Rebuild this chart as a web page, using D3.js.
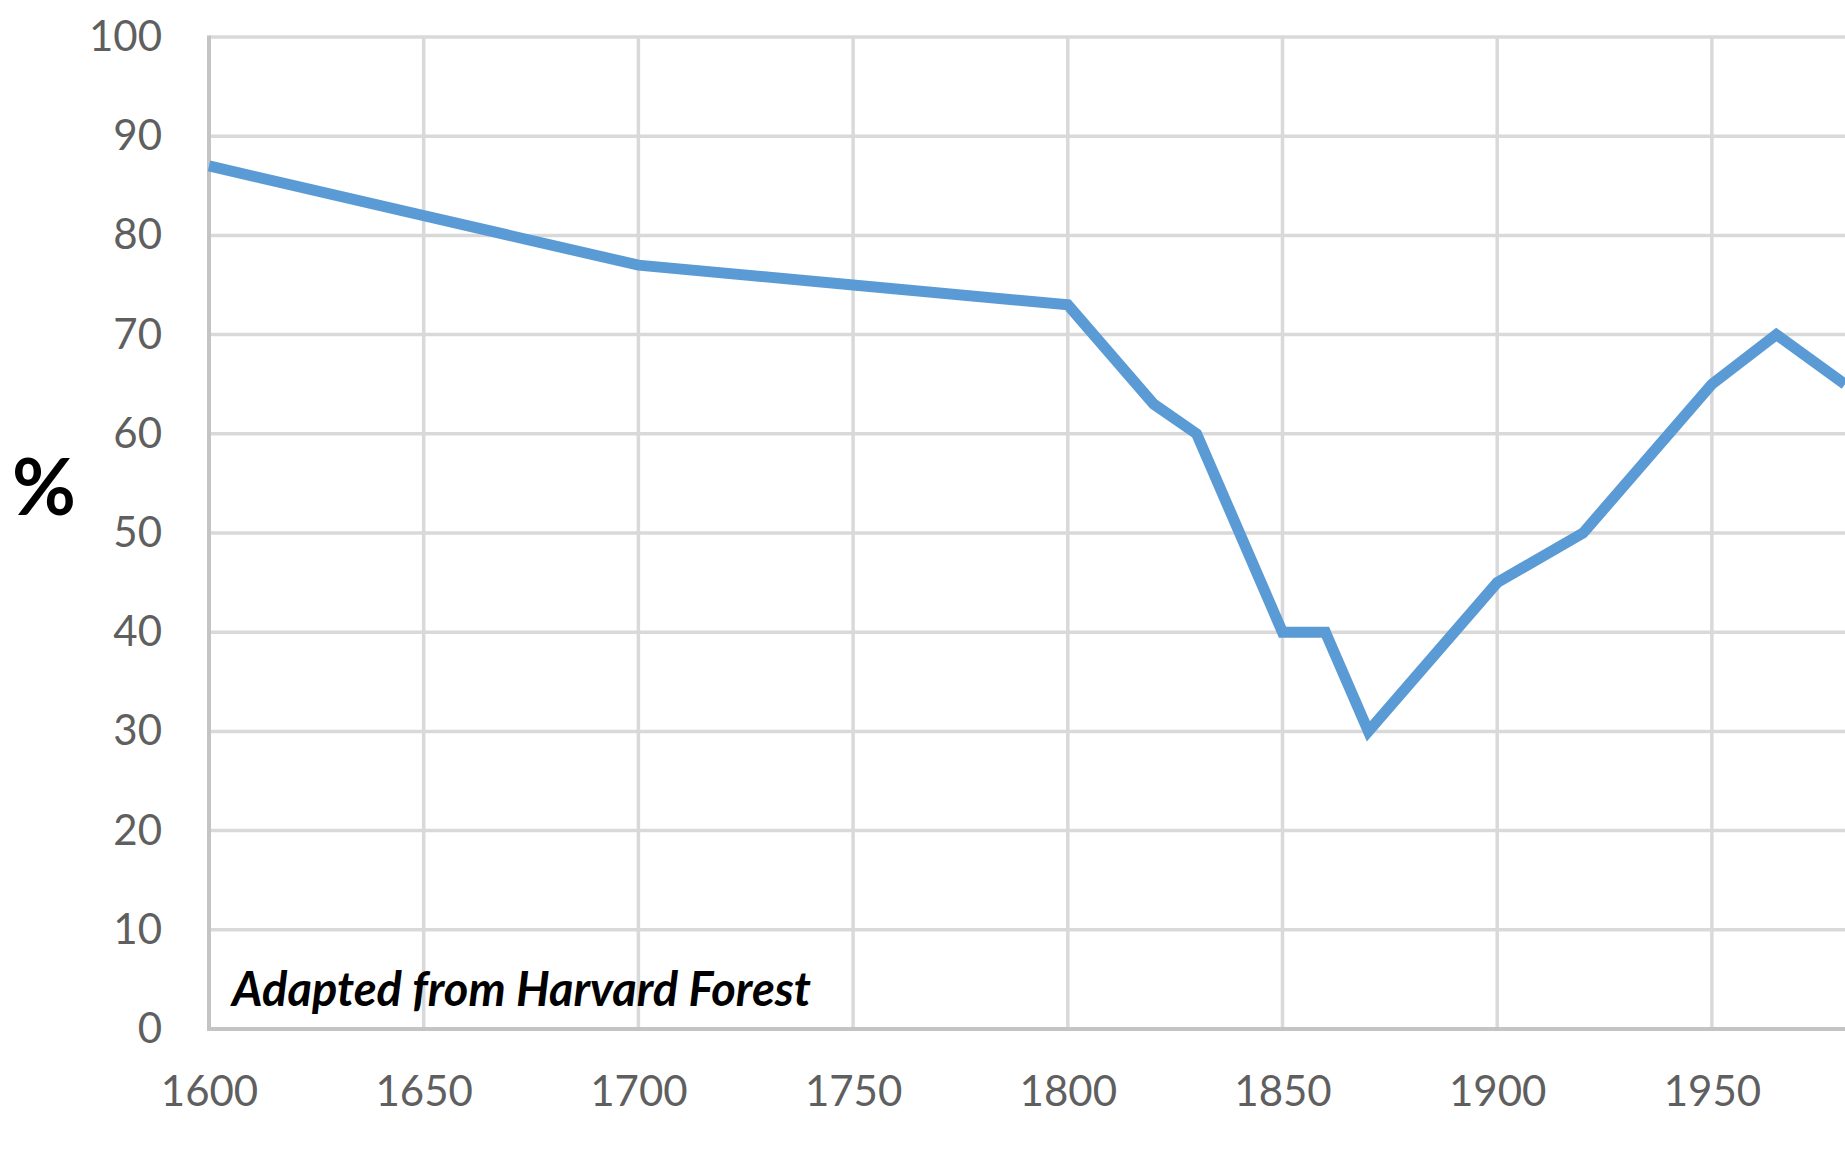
<!DOCTYPE html>
<html>
<head>
<meta charset="utf-8">
<script src="https://cdn.jsdelivr.net/npm/d3@7"></script>
<style>
  body { margin: 0; background: #fff; }
  svg { display: block; }
</style>
</head>
<body>
<svg id="chart"></svg>
<script>
// forest cover, percent of land area
var years  = [1600, 1650, 1700, 1750, 1800, 1820, 1830, 1850, 1860, 1870, 1900, 1920, 1950, 1965, 1981];
var values = [87,   82,   77,   75,   73,   63,   60,   40,   40,   30,   45,   50,   65,   70,   65];
var yTicks = [0, 10, 20, 30, 40, 50, 60, 70, 80, 90, 100];
var xTicks = [1600, 1650, 1700, 1750, 1800, 1850, 1900, 1950];

var W = 1845, H = 1153;
var margins = {top: 37, right: 0, bottom: 124, left: 209};

var svg = d3.select('#chart')
    .attr('width', W)
    .attr('height', H);

var xScale = d3.scaleLinear()
    .domain([1600, 1981])
    .range([margins.left, W - margins.right]);

var yScale = d3.scaleLinear()
    .domain([0, 100])
    .range([H - margins.bottom, margins.top]);

// grid
svg.append('g').selectAll('line')
    .data(yTicks.filter(d => d > 0))
    .enter().append('line')
    .attr('x1', margins.left).attr('x2', W)
    .attr('y1', d => yScale(d)).attr('y2', d => yScale(d))
    .style('stroke', '#d9d9d9')
    .style('stroke-width', 3.5);

svg.append('g').selectAll('line')
    .data(xTicks.filter(d => d > 1600))
    .enter().append('line')
    .attr('x1', d => xScale(d)).attr('x2', d => xScale(d))
    .attr('y1', yScale(0)).attr('y2', yScale(100))
    .style('stroke', '#d9d9d9')
    .style('stroke-width', 3.5);

// axes lines
svg.append('line')
    .attr('x1', margins.left).attr('x2', margins.left)
    .attr('y1', yScale(0)).attr('y2', yScale(100) - 1.5)
    .style('stroke', '#c4c4c4').style('stroke-width', 4);
svg.append('line')
    .attr('x1', margins.left - 2).attr('x2', W)
    .attr('y1', yScale(0)).attr('y2', yScale(0))
    .style('stroke', '#c4c4c4').style('stroke-width', 4);

// tick labels
var yaxis = svg.append('g')
    .attr('transform', 'translate(' + margins.left + ',0)')
    .call(d3.axisLeft(yScale).tickValues(yTicks).tickSize(0).tickPadding(47));
yaxis.select('.domain').remove();

var xaxis = svg.append('g')
    .attr('transform', 'translate(0,' + yScale(0) + ')')
    .call(d3.axisBottom(xScale).tickValues(xTicks).tickFormat(d3.format('d')).tickSize(0).tickPadding(47));
xaxis.select('.domain').remove();

svg.selectAll('.tick text')
    .style('font-family', 'Lato, sans-serif')
    .style('font-size', '42px')
    .style('fill', '#5f5f5f');

// the line
var line = d3.line()
    .x((d, i) => xScale(years[i]))
    .y(d => yScale(d));

svg.append('path')
    .datum(values)
    .attr('d', line)
    .style('fill', 'none')
    .style('stroke', '#5b9bd5')
    .style('stroke-width', 11)
    .style('stroke-linejoin', 'miter');

// labels
svg.append('text')
    .attr('x', 44)
    .attr('y', 515)
    .attr('text-anchor', 'middle')
    .style('font-family', 'Lato, sans-serif')
    .style('font-weight', 'bold')
    .style('font-size', '78px')
    .style('fill', '#000')
    .text('%');

svg.append('text')
    .attr('x', 232)
    .attr('y', 1006)
    .style('font-family', 'Lato, sans-serif')
    .style('font-weight', 'bold')
    .style('font-style', 'italic')
    .style('font-size', '47px')
    .style('fill', '#000')
    .text('Adapted from Harvard Forest');
</script>
</body>
</html>
